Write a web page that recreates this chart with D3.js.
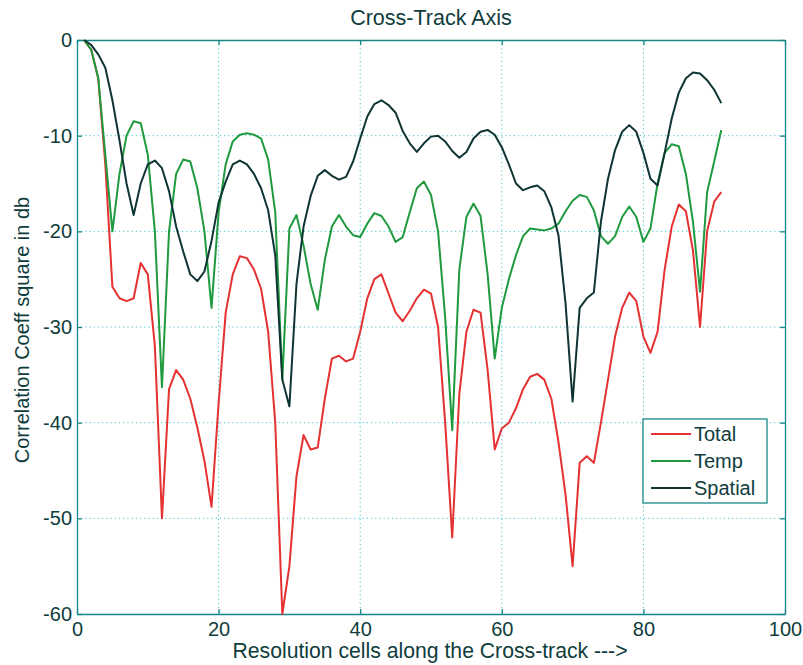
<!DOCTYPE html>
<html>
<head>
<meta charset="utf-8">
<script src="https://cdn.jsdelivr.net/npm/d3@7"></script>
<style>
  html, body { margin: 0; padding: 0; background: #ffffff; }
  svg { display: block; font-family: "Liberation Sans", Arial, Helvetica, sans-serif; }
</style>
</head>
<body>
<svg id="chart" width="803" height="665"></svg>
<script>
// Resolution cell index along the cross-track
const cells = d3.range(1, 92);

// Correlation coefficient squared (dB) per resolution cell
const total = [
  0, -1, -4, -13, -25.8, -27, -27.3, -27, -23.3, -24.5,
  -32, -50, -36.5, -34.5, -35.5, -37.5, -40.5, -44, -48.8, -38,
  -28.5, -24.5, -22.6, -22.8, -24, -26, -30.5, -40, -60, -55,
  -45.6, -41.3, -42.8, -42.6, -37.5, -33.3, -33, -33.6, -33.3, -30.5,
  -27, -25, -24.5, -26.5, -28.5, -29.4, -28.3, -27, -26.1, -26.5,
  -30, -40, -52, -37, -30.5, -28.2, -28.5, -34.5, -42.8, -40.6,
  -40, -38.5, -36.5, -35.2, -34.9, -35.5, -37.5, -42, -47.5, -55,
  -44.2, -43.5, -44.2, -40, -35.5, -31, -28, -26.4, -27.3, -31,
  -32.7, -30.5, -24, -19.5, -17.2, -17.9, -22, -30, -20, -16.9,
  -15.9
];

const temp = [
  0, -1, -4, -12, -20, -14, -10, -8.5, -8.7, -12,
  -20, -36.3, -20, -14, -12.5, -12.7, -15.5, -20, -28, -18,
  -13, -10.6, -9.9, -9.75, -9.9, -10.3, -12.5, -18, -35.5, -19.7,
  -18.3, -21.5, -25.5, -28.2, -23, -19.5, -18.3, -19.5, -20.4, -20.6,
  -19.2, -18.1, -18.4, -19.5, -21.1, -20.6, -18, -15.5, -14.8, -16.2,
  -20, -29, -40.8, -24, -18.5, -17.1, -18.4, -24.5, -33.3, -28,
  -25, -22.5, -20.5, -19.7, -19.8, -19.9, -19.7, -19.2, -17.9, -16.8,
  -16.2, -16.4, -17.8, -20.5, -21.3, -20.5, -18.5, -17.4, -18.5, -21.1,
  -19.7, -15, -11.8, -10.9, -11.1, -14, -19, -26.3, -15.9, -12.7,
  -9.4
];

const spatial = [
  0, -0.5, -1.5, -2.9, -6.3, -10.5, -15, -18.3, -15, -13,
  -12.6, -13.4, -15.8, -19.5, -22.1, -24.5, -25.2, -24.2, -21, -17,
  -14.8, -13, -12.6, -13, -14, -15.5, -17.8, -22.5, -35.5, -38.3,
  -25.5, -19.5, -16.3, -14.2, -13.6, -14.2, -14.6, -14.3, -12.7, -10.3,
  -8, -6.7, -6.3, -6.8, -7.6, -9.5, -10.8, -11.7, -10.8, -10.1,
  -10, -10.6, -11.6, -12.3, -11.7, -10.3, -9.6, -9.4, -9.9, -11.2,
  -13, -15, -15.7, -15.4, -15.2, -15.8, -17.5, -20.4, -27.5, -37.8,
  -28, -27, -26.4, -19, -14.5, -11.5, -9.6, -8.9, -9.6, -11.8,
  -14.5, -15.2, -11.8, -8.2, -5.5, -4, -3.4, -3.5, -4.2, -5.2,
  -6.6
];

const seriesNames = ["Total", "Temp", "Spatial"];
const seriesColors = ["#e43232", "#1f9a3e", "#0f3434"];
const xTicks = [0, 20, 40, 60, 80, 100];
const yTicks = [0, -10, -20, -30, -40, -50, -60];

const titleText = "Cross-Track Axis";
const xLabelText = "Resolution cells along the Cross-track --->";
const yLabelText = "Correlation Coeff square in db";

const svg = d3.select("#chart");
const plotLeft = 77, plotRight = 785, plotTop = 40, plotBottom = 614;
const axisColor = "#178787";
const gridColor = "#3ec6cc";
const textColor = "#0f3d3d";
const tickFont = 20;

const x = d3.scaleLinear().domain([0, 100]).range([plotLeft, plotRight]);
const y = d3.scaleLinear().domain([-60, 0]).range([plotBottom, plotTop]);

// Dotted grid
const grid = svg.append("g");
grid.selectAll("line.gx")
  .data(xTicks.filter(t => t > 0 && t < 100))
  .join("line")
  .attr("x1", d => x(d)).attr("x2", d => x(d))
  .attr("y1", plotTop).attr("y2", plotBottom)
  .attr("stroke", gridColor).attr("stroke-width", 1)
  .attr("stroke-dasharray", "1.2,3");
grid.selectAll("line.gy")
  .data(yTicks.filter(t => t < 0 && t > -60))
  .join("line")
  .attr("x1", plotLeft).attr("x2", plotRight)
  .attr("y1", d => y(d)).attr("y2", d => y(d))
  .attr("stroke", gridColor).attr("stroke-width", 1)
  .attr("stroke-dasharray", "1.2,3");

// Axes with inward ticks on all four sides
function styleAxis(g) {
  g.selectAll("path.domain").attr("stroke", axisColor).attr("stroke-width", 1.3);
  g.selectAll(".tick line").attr("stroke", axisColor).attr("stroke-width", 1.3);
  g.selectAll(".tick text")
    .attr("fill", textColor)
    .style("font-size", tickFont + "px")
    .style("font-family", "'Liberation Sans', Arial, sans-serif");
}

const plainNumber = d => String(d);

const xAxisBottom = svg.append("g")
  .attr("transform", `translate(0,${plotBottom})`)
  .call(d3.axisBottom(x).tickValues(xTicks).tickFormat(plainNumber)
    .tickSizeInner(-5).tickSizeOuter(0).tickPadding(8));
styleAxis(xAxisBottom);

const xAxisTop = svg.append("g")
  .attr("transform", `translate(0,${plotTop})`)
  .call(d3.axisTop(x).tickValues(xTicks).tickFormat("")
    .tickSizeInner(-5).tickSizeOuter(0));
styleAxis(xAxisTop);

const yAxisLeft = svg.append("g")
  .attr("transform", `translate(${plotLeft},0)`)
  .call(d3.axisLeft(y).tickValues(yTicks).tickFormat(plainNumber)
    .tickSizeInner(-5).tickSizeOuter(0).tickPadding(5));
styleAxis(yAxisLeft);

const yAxisRight = svg.append("g")
  .attr("transform", `translate(${plotRight},0)`)
  .call(d3.axisRight(y).tickValues(yTicks).tickFormat("")
    .tickSizeInner(-5).tickSizeOuter(0));
styleAxis(yAxisRight);

// Plot series
const allSeries = [total, temp, spatial];
const line = d3.line()
  .x((d, i) => x(cells[i]))
  .y(d => y(d));

svg.append("g")
  .selectAll("path")
  .data(allSeries)
  .join("path")
  .attr("d", d => line(d))
  .attr("fill", "none")
  .attr("stroke", (d, i) => seriesColors[i])
  .attr("stroke-width", 2)
  .attr("stroke-linejoin", "round");

// Title and axis labels
svg.append("text")
  .attr("x", (plotLeft + plotRight) / 2).attr("y", 25)
  .attr("text-anchor", "middle")
  .attr("fill", textColor)
  .style("font-size", "21.5px")
  .text(titleText);

svg.append("text")
  .attr("x", (plotLeft + plotRight) / 2 - 1).attr("y", 658)
  .attr("text-anchor", "middle")
  .attr("fill", textColor)
  .style("font-size", "21.2px")
  .text(xLabelText);

svg.append("text")
  .attr("transform", `translate(29,${(plotTop + plotBottom) / 2 + 3}) rotate(-90)`)
  .attr("text-anchor", "middle")
  .attr("fill", textColor)
  .style("font-size", "20px")
  .text(yLabelText);

// Legend
const legend = svg.append("g").attr("transform", "translate(643,419)");
legend.append("rect")
  .attr("width", 124).attr("height", 84)
  .attr("fill", "#ffffff")
  .attr("stroke", axisColor).attr("stroke-width", 1.3);
const rows = legend.selectAll("g.row")
  .data(seriesNames)
  .join("g")
  .attr("transform", (d, i) => `translate(0,${15 + i * 27})`);
rows.append("line")
  .attr("x1", 8).attr("x2", 48)
  .attr("stroke", (d, i) => seriesColors[i])
  .attr("stroke-width", 2);
rows.append("text")
  .attr("x", 51).attr("y", 7)
  .attr("fill", textColor)
  .style("font-size", "20px")
  .text(d => d);
</script>
</body>
</html>
